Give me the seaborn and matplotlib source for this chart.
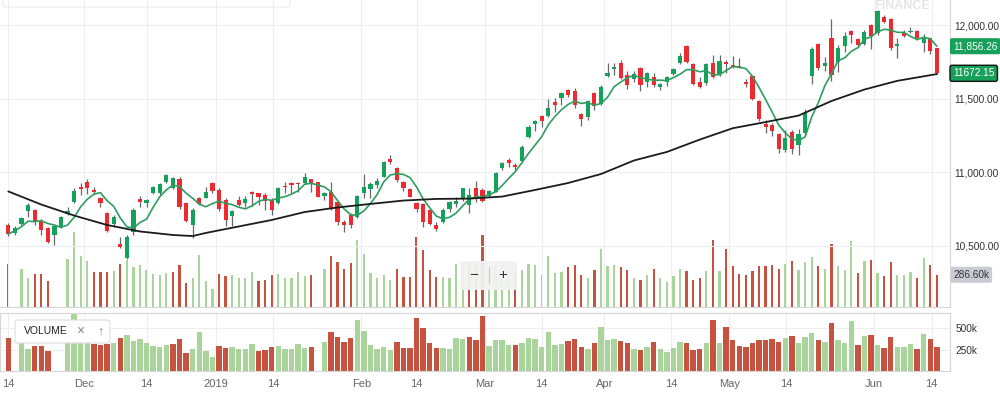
import numpy as np
import pandas as pd
import matplotlib
matplotlib.use("Agg")
import matplotlib.pyplot as plt
import matplotlib.transforms as mtransforms
from matplotlib.patches import FancyBboxPatch
import seaborn as sns

# ---------------- data ----------------
open_ = [10642, 10586, 10649, 10737, 10744, 10671, 10620, 10574, 10626, 10717,
         10800, 10902, 10936, 10880, 10827, 10725, 10649, 10513, 10420, 10597,
         10817, 10789, 10857, 10857, 10936, 10891, 10952, 10789, 10639, 10827,
         10827, 10925, 10880, 10812, 10705, 10812, 10789, 10868, 10857, 10846,
         10812, 10789, 10907, 10929, 10925, 10925, 10952, 10932, 10841, 10868,
         10796, 10660, 10710, 10698, 10857, 10886, 10913, 10966, 11087, 11031,
         10936, 10884, 10793, 10782, 10744, 10642, 10664, 10751, 10787, 10819,
         10778, 10891, 10880, 10841, 10868, 11031, 11083, 11049, 11077, 11237,
         11328, 11384, 11382, 11475, 11506, 11561, 11552, 11394, 11373, 11540,
         11462, 11656, 11701, 11740, 11661, 11633, 11706, 11615, 11645, 11581,
         11615, 11667, 11740, 11859, 11733, 11615, 11608, 11740, 11665, 11749,
         11728, 11725, 11611, 11654, 11484, 11326, 11321, 11260, 11151, 11276,
         11185, 11265, 11654, 11869, 11722, 11910, 11747, 11859, 11959, 11905,
         11869, 12000, 11944, 12056, 12041, 11859, 11944, 11954, 11959, 11876,
         11910, 11842]
high = [10658, 10637, 10698, 10789, 10749, 10681, 10630, 10642, 10703, 10762,
        10891, 10925, 10952, 10898, 10834, 10732, 10710, 10563, 10574, 10759,
        10841, 10817, 10907, 10925, 10988, 10970, 10970, 10800, 10755, 10834,
        10902, 10932, 10891, 10823, 10744, 10841, 10839, 10875, 10861, 10857,
        10823, 10902, 10932, 10936, 10932, 10993, 10955, 10936, 10868, 10936,
        10800, 10676, 10721, 10846, 10986, 10932, 10959, 11076, 11117, 11038,
        10941, 10891, 10796, 10789, 10749, 10660, 10755, 10805, 10830, 10895,
        10891, 10941, 10891, 10880, 11000, 11068, 11095, 11061, 11185, 11321,
        11355, 11389, 11495, 11502, 11547, 11565, 11570, 11400, 11491, 11547,
        11593, 11740, 11740, 11762, 11687, 11687, 11717, 11683, 11676, 11608,
        11656, 11706, 11808, 11864, 11740, 11645, 11744, 11796, 11796, 11762,
        11789, 11774, 11631, 11661, 11490, 11355, 11332, 11265, 11287, 11287,
        11292, 11430, 11853, 11876, 11785, 12041, 11864, 11954, 11966, 11910,
        11966, 12005, 12102, 12068, 12045, 11910, 11966, 11988, 11966, 11937,
        11914, 11846]
low = [10569, 10574, 10642, 10698, 10642, 10574, 10522, 10506, 10620, 10710,
       10789, 10846, 10853, 10853, 10762, 10592, 10626, 10484, 10411, 10574,
       10762, 10762, 10853, 10846, 10929, 10886, 10749, 10664, 10557, 10778,
       10823, 10861, 10737, 10635, 10635, 10771, 10762, 10771, 10778, 10744,
       10710, 10785, 10857, 10857, 10869, 10920, 10868, 10830, 10812, 10744,
       10642, 10592, 10624, 10687, 10823, 10823, 10891, 10966, 11054, 10936,
       10873, 10830, 10732, 10630, 10642, 10601, 10653, 10732, 10766, 10805,
       10721, 10800, 10796, 10835, 10864, 11015, 11038, 11015, 11072, 11231,
       11280, 11309, 11377, 11411, 11457, 11513, 11434, 11316, 11355, 11423,
       11457, 11649, 11661, 11633, 11565, 11613, 11554, 11577, 11581, 11559,
       11586, 11661, 11735, 11740, 11593, 11570, 11593, 11638, 11654, 11672,
       11706, 11708, 11581, 11491, 11350, 11265, 11246, 11129, 11140, 11124,
       11119, 11253, 11597, 11694, 11688, 11620, 11683, 11815, 11876, 11853,
       11864, 11835, 11932, 12011, 11830, 11778, 11920, 11944, 11898, 11819,
       11801, 11667]
close = [10581, 10624, 10687, 10776, 10660, 10608, 10529, 10637, 10694, 10739,
         10875, 10886, 10891, 10866, 10789, 10603, 10698, 10495, 10563, 10744,
         10796, 10812, 10898, 10918, 10981, 10959, 10761, 10671, 10744, 10785,
         10868, 10871, 10749, 10676, 10737, 10778, 10817, 10850, 10830, 10805,
         10744, 10895, 10898, 10916, 10918, 10966, 10929, 10834, 10857, 10755,
         10664, 10642, 10639, 10839, 10902, 10920, 10941, 11070, 11073, 10948,
         10895, 10834, 10751, 10664, 10647, 10615, 10744, 10800, 10808, 10891,
         10846, 10823, 10802, 10873, 10993, 11061, 11065, 11034, 11174, 11309,
         11345, 11348, 11434, 11457, 11540, 11525, 11457, 11360, 11484, 11452,
         11581, 11672, 11717, 11642, 11593, 11667, 11593, 11676, 11593, 11599,
         11649, 11699, 11789, 11751, 11597, 11577, 11733, 11649, 11758, 11735,
         11717, 11711, 11599, 11496, 11360, 11305, 11282, 11156, 11231, 11156,
         11258, 11400, 11835, 11710, 11740, 11661, 11846, 11927, 11932, 11864,
         11950, 11927, 12095, 12018, 11842, 11869, 11927, 11960.15, 11910, 11916,
         11823, 11672.15]
volume_k = [381, None, 341, 262, 294, 294, 234, None, None, 430,
            667, 453, 406, 314, 310, 314, 322, 381, 421, 353,
            373, 333, 294, 282, 302, 314, 373, 214, 254, 460,
            234, 163, 294, 274, 282, 254, 262, 314, 234, 242,
            282, 294, 262, 254, 314, 274, 282, None, 341, 453,
            401, 341, 389, 600, 468, 302, 254, 282, 242, 341,
            270, 270, 619, 508, 333, 270, 270, 262, 381, 373,
            401, 361, 639, 294, 361, 361, 302, 310, 333, 381,
            373, 282, 453, 302, 314, 353, 373, 282, 262, 333,
            520, 361, 373, 353, 333, 254, 242, 282, 341, 262,
            222, 274, 341, 322, 242, 254, 322, 600, 322, 520,
            361, 294, 282, 322, 361, 361, 373, 341, 381, 409,
            333, 401, 441, 361, 341, 560, 361, 333, 588, 302,
            413, 421, 302, 274, 401, 282, 282, 314, 262, 433,
            373, 286.6]
long_line_idx = [0, 5, 10, 15, 20, 25, 28, 30, 35, 40, 45, 50, 55, 60, 65,
                 70, 75, 80, 85, 90, 95, 100, 105, 110, 115, 120, 125, 130, 135, 141]
long_line_val = [10870, 10781, 10706, 10642, 10598, 10574, 10567, 10588, 10632, 10676,
                 10730, 10761, 10785, 10808, 10819, 10821, 10835, 10880, 10927, 10988,
                 11080, 11138, 11222, 11299, 11341, 11385, 11484, 11562, 11621, 11667]
tick_pos = [0, 11.5, 21.0, 31.5, 40.2, 53.6, 62.0, 72.4, 81.0, 90.5, 100.6,
            109.5, 118.1, 131.5, 140.2]
tick_labels = ["14", "Dec", "14", "2019", "14", "Feb", "14", "Mar", "14", "Apr",
               "14", "May", "14", "Jun", "14"]
price_ticks = [10500, 11000, 11500, 12000]
vol_ticks = [250, 500]

# ---------------- style ----------------
sns.set_theme(style="white")
plt.rcParams['font.family'] = ['Liberation Sans', 'DejaVu Sans']

GREEN = "#13a15b"
RED = "#ec2a30"
VGREEN = "#a9d59d"
VRED = "#c5533f"
MA_GREEN = "#2e9d60"
GRID = "#eeeeee"
BORDER = "#d6d6d6"
RFS = 7.3  # right-hand scale font size

df = pd.DataFrame({"idx": np.arange(len(close)), "open": open_, "high": high,
                   "low": low, "close": close,
                   "vol": pd.to_numeric(pd.Series(volume_k, dtype="float"))})
prev_close = df["close"].shift(1).fillna(df["open"])
df["vdir"] = np.where(df["close"] >= prev_close, "up", "down")
df["sma5"] = df["close"].rolling(5, min_periods=1).mean()
vd = df.dropna(subset=["vol"])

W, H = 1000, 397
def rect(x0, y0, x1, y1):
    return [x0 / W, 1 - y1 / H, (x1 - x0) / W, (y1 - y0) / H]

XLIM = (-1.26, 143.0)
fig = plt.figure(figsize=(10, 3.97), dpi=100)
ax_v = fig.add_axes(rect(0, 0, 950, 307))
ax = fig.add_axes(rect(0, 0, 950, 307))
ax_b = fig.add_axes(rect(0, 313, 950, 371))

# ---------- overlay volume (behind price) ----------
sns.barplot(data=vd, x="idx", y="vol", hue="vdir", palette={"up": VGREEN, "down": VRED},
            dodge=False, native_scale=True, width=0.34, saturation=1, errorbar=None,
            legend=False, ax=ax_v, linewidth=0)
ax_v.set_xlim(*XLIM)
ax_v.set_ylim(0, 2730)
ax_v.set_axis_off()

# ---------- price panel ----------
ax.patch.set_visible(False)
ax.grid(True, color=GRID, lw=0.8)
ax.set_axisbelow(True)
up = df["close"] >= df["open"]
ccol = np.where(up, GREEN, RED)
ax.vlines(df["idx"], df["low"], df["high"], color="#686868", lw=0.9, zorder=2)
body_lo = np.minimum(df["open"], df["close"])
body_h = np.maximum((df["close"] - df["open"]).abs(), 7)
ax.bar(df["idx"], body_h, bottom=body_lo, width=0.64, color=ccol, linewidth=0, zorder=3)
sns.lineplot(x=df["idx"], y=df["sma5"], color=MA_GREEN, lw=1.2, ax=ax, zorder=4)
sns.lineplot(x=long_line_idx, y=long_line_val, color="#1c1c1c", lw=1.3, ax=ax, zorder=4)
ax.set_xlim(*XLIM)
ax.set_ylim(10085, 12170)
ax.set_xlabel("")
ax.set_ylabel("")
ax.set_xticks(tick_pos)
ax.tick_params(axis="x", length=0, labelbottom=False)
ax.yaxis.tick_right()
ax.set_yticks(price_ticks)
ax.set_yticklabels([f"{v:,.2f}" for v in price_ticks])
ax.tick_params(axis="y", length=0, pad=3, labelsize=RFS, labelcolor="#333333")
for s in ["top", "left"]:
    ax.spines[s].set_visible(False)
for s in ["right", "bottom"]:
    ax.spines[s].set_color(BORDER)
    ax.spines[s].set_linewidth(0.8)

# value boxes on the price scale
trans = mtransforms.blended_transform_factory(ax.transAxes, ax.transData)
ax.text(1.0032, df["sma5"].iloc[-1], f"{df['sma5'].iloc[-1]:,.2f}", transform=trans,
        ha="left", va="center", fontsize=RFS, color="white", clip_on=False, zorder=10,
        bbox=dict(boxstyle="round,pad=0.3,rounding_size=0.2", fc="#17a05a", ec="none"))
ax.text(1.0032, df["close"].iloc[-1], f"{df['close'].iloc[-1]:.2f}", transform=trans,
        ha="left", va="center", fontsize=RFS, color="white", clip_on=False, zorder=10,
        bbox=dict(boxstyle="round,pad=0.3,rounding_size=0.2", fc="#17a05a", ec="#111111", lw=1.0))
trans_v = mtransforms.blended_transform_factory(ax_v.transAxes, ax_v.transData)
ax_v.text(1.0032, df["vol"].iloc[-1], f"{df['vol'].iloc[-1]:.2f}k", transform=trans_v,
          ha="left", va="center", fontsize=RFS, color="#333333", clip_on=False, zorder=10,
          bbox=dict(boxstyle="round,pad=0.3,rounding_size=0.2", fc="#c9ccd3", ec="none"))

# ---------- volume panel ----------
sns.barplot(data=vd, x="idx", y="vol", hue="vdir", palette={"up": VGREEN, "down": VRED},
            dodge=False, native_scale=True, width=0.82, saturation=1, errorbar=None,
            legend=False, ax=ax_b, linewidth=0)
ax_b.set_xlim(*XLIM)
ax_b.set_ylim(0, 679)
ax_b.set_xlabel("")
ax_b.set_ylabel("")
ax_b.grid(True, color=GRID, lw=0.8)
ax_b.set_axisbelow(True)
ax_b.set_xticks(tick_pos)
ax_b.set_xticklabels(tick_labels)
ax_b.tick_params(axis="x", length=0, pad=6, labelsize=8, labelcolor="#666666")
ax_b.yaxis.tick_right()
ax_b.set_yticks(vol_ticks)
ax_b.set_yticklabels([f"{v}k" for v in vol_ticks])
ax_b.tick_params(axis="y", length=0, pad=4, labelsize=RFS, labelcolor="#333333")
for s in ax_b.spines.values():
    s.set_color(BORDER)
    s.set_linewidth(0.8)

# ---------- decorations ----------
fig.patches.append(FancyBboxPatch((15 / W, 1 - 343 / H), 95 / W, 23 / H,
                                  boxstyle="round,pad=0,rounding_size=0.004",
                                  transform=fig.transFigure, fc="white", ec="#dddddd",
                                  lw=0.8, zorder=5))
fig.text(24 / W, 1 - 331 / H, "VOLUME", fontsize=7.5, color="#222222", va="center",
         ha="left", zorder=6)
fig.text(80 / W, 1 - 331 / H, "×", fontsize=10, color="#888888", va="center",
         ha="center", zorder=6)
fig.text(100 / W, 1 - 331 / H, "↑", fontsize=9, color="#888888", va="center",
         ha="center", zorder=6)

fig.patches.append(FancyBboxPatch((460 / W, 1 - 290 / H), 57 / W, 29 / H,
                                  boxstyle="round,pad=0,rounding_size=0.004",
                                  transform=fig.transFigure, fc="#f2f2f2", ec="none",
                                  alpha=0.95, zorder=5))
fig.text(474 / W, 1 - 275 / H, "−", fontsize=11, color="#333333", va="center",
         ha="center", zorder=6)
fig.lines.append(plt.Line2D([489 / W, 489 / W], [1 - 283 / H, 1 - 267 / H],
                            transform=fig.transFigure, color="#cccccc", lw=0.8, zorder=6))
fig.text(503 / W, 1 - 275 / H, "+", fontsize=11, color="#333333", va="center",
         ha="center", zorder=6)

fig.text(902 / W, 0.999, "FINANCE", fontsize=9, color="#e6e6e6", va="top",
         ha="center", fontweight="bold", zorder=0)
fig.patches.append(FancyBboxPatch((3 / W, 1 - 7 / H), 287 / W, 20 / H,
                                  boxstyle="round,pad=0,rounding_size=0.004",
                                  transform=fig.transFigure, fc="none", ec="#ebebeb",
                                  lw=0.8, zorder=5))

fig.savefig("out.png", dpi=100)
